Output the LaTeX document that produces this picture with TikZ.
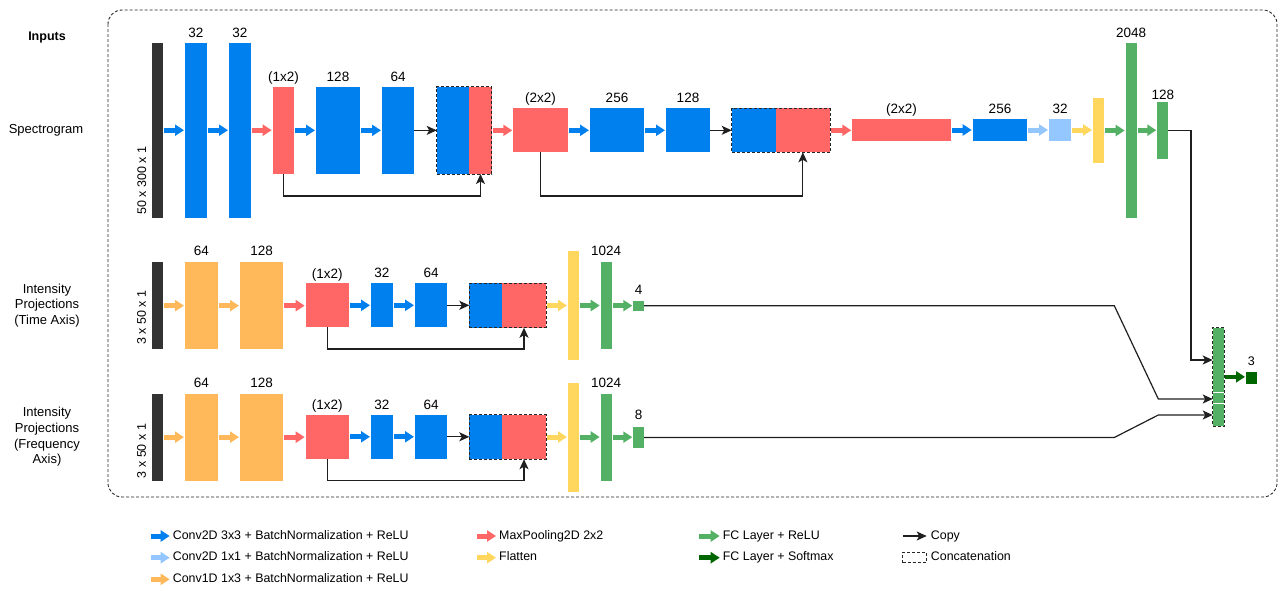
\documentclass[tikz,border=0pt]{standalone}
\usepackage{fontspec}
\setmainfont{Liberation Sans}
\usetikzlibrary{arrows.meta}
\definecolor{cblue}{RGB}{0,128,238}
\definecolor{cred}{RGB}{255,102,102}
\definecolor{clblue}{RGB}{148,198,255}
\definecolor{corange}{RGB}{255,185,90}
\definecolor{cyellow}{RGB}{255,214,94}
\definecolor{cgreen}{RGB}{84,176,100}
\definecolor{cdgreen}{RGB}{0,102,0}
\definecolor{cdark}{RGB}{51,51,51}
\newcommand{\bx}[6][]{\node[bar,#1,minimum width={((#5)-(#3))*1pt},minimum height={((#6)-(#4))*1pt}] (#2) at (#3,#4) {};}
\newcommand{\lb}[4][10.5]{\node[lbl] (#2) at ([yshift=#1pt]#3.north) {#4};}
\newcommand{\ar}[3]{\draw[#1] (#2.east) -- (#2.east -| #3.west);}
\tikzset{
  bar/.style={draw=none,inner sep=0pt,outer sep=0pt,anchor=north west},
  concat/.style={bar,draw=black!85,line width=0.9pt,dash pattern=on 3pt off 2pt},
  fat/.style={line width=5pt,-{Triangle[length=9pt,width=11pt]},shorten <=1pt,shorten >=1pt},
  ab/.style={fat,draw=cblue,color=cblue},
  alb/.style={fat,draw=clblue,color=clblue},
  ar/.style={fat,draw=cred,color=cred},
  ao/.style={fat,draw=corange,color=corange},
  ay/.style={fat,draw=cyellow,color=cyellow},
  ag/.style={fat,draw=cgreen,color=cgreen},
  adg/.style={fat,draw=cdgreen,color=cdgreen},
  copy/.style={draw=black!88,line width=1.2pt,-{Stealth[length=10pt,width=9pt,inset=2.5pt]},color=black!88},
  lbl/.style={font=\fontsize{13.5}{15}\selectfont,inner sep=0pt,text height=9.6pt,text depth=0pt,anchor=center},
  side/.style={font=\fontsize{13}{15.6}\selectfont,inner sep=0pt,align=center},
  rot/.style={font=\fontsize{12.5}{14}\selectfont,inner sep=0pt,rotate=90,anchor=west},
  leg/.style={font=\fontsize{12.4}{14}\selectfont,inner sep=0pt,anchor=west,text height=9pt,text depth=2.5pt},
  legfat/.style={shorten >=3pt,shorten <=0pt},
}
\begin{document}
\begin{tikzpicture}[x=1pt,y=-1pt]
\useasboundingbox (0,0) rectangle (1280,590);
% frame
\draw[draw=black!85,line width=0.9pt,dash pattern=on 3pt off 2pt,rounded corners=14pt] (108,10) rectangle (1277,497);
% side labels
\node[side,font=\bfseries\fontsize{12.5}{15}\selectfont] (tin) at (47,37) {Inputs};
\node[side] (tsp) at (46,130) {Spectrogram};
\node[side] (tti) at (47,305.5) {Intensity\\Projections\\(Time Axis)};
\node[side] (tfr) at (47,437) {Intensity\\Projections\\(Frequency\\Axis)};
% ---------- row 1 ----------
\bx[fill=cdark]{in1}{152.3}{42.7}{163.3}{217.7}
\bx[fill=cblue]{s1}{185}{42.7}{206.7}{217.7}
\bx[fill=cblue]{s2}{229}{42.7}{250.7}{217.7}
\bx[fill=cred]{p1}{272.7}{86.7}{294.3}{174}
\bx[fill=cblue]{s3}{316}{86.7}{360}{174}
\bx[fill=cblue]{s4}{382}{86.7}{414.3}{174}
\bx[fill=cblue]{c1b}{436.7}{86.7}{469.3}{174}
\bx[fill=cred]{c1r}{469.3}{86.7}{491.7}{174}
\bx[concat]{c1}{436.7}{86.7}{491.7}{174}
\bx[fill=cred]{p2}{513.3}{108.3}{567.7}{152.3}
\bx[fill=cblue]{s5}{590}{108.3}{644}{152.3}
\bx[fill=cblue]{s6}{666}{108.3}{710}{152.3}
\bx[fill=cblue]{c2b}{731.7}{108.3}{775.7}{152.3}
\bx[fill=cred]{c2r}{775.7}{108.3}{830}{152.3}
\bx[concat]{c2}{731.7}{108.3}{830}{152.3}
\bx[fill=cred]{p3}{852.3}{119}{950.7}{141}
\bx[fill=cblue]{s7}{972.7}{119}{1027.3}{141}
\bx[fill=clblue]{s8}{1049}{119}{1071}{141}
\bx[fill=cyellow]{f1}{1093}{97.7}{1104}{163.3}
\bx[fill=cgreen]{g1}{1125.7}{42.7}{1136.7}{217.7}
\bx[fill=cgreen]{g2}{1157.3}{101.7}{1168.3}{159.3}
\node[rot] (r1) at (141.7,215) {50 x 300 x 1};
\lb{l1}{s1}{32}\lb{l2}{s2}{32}\lb[9.7]{l3}{p1}{(1x2)}\lb{l4}{s3}{128}\lb{l5}{s4}{64}
\lb{l6}{p2}{(2x2)}\lb{l7}{s5}{256}\lb{l8}{s6}{128}
\lb{l9}{p3}{(2x2)}\lb{l10}{s7}{256}\lb{l11}{s8}{32}\lb{l12}{g1}{2048}\lb[7.5]{l13}{g2}{128}
\ar{ab}{in1}{s1}\ar{ab}{s1}{s2}\ar{ar}{s2}{p1}\ar{ab}{p1}{s3}\ar{ab}{s3}{s4}
\draw[copy] (s4.east) -- (s4.east -| c1.west);
\ar{ar}{c1}{p2}\ar{ab}{p2}{s5}\ar{ab}{s5}{s6}
\draw[copy] (s6.east) -- (s6.east -| c2.west);
\ar{ar}{c2}{p3}\ar{ab}{p3}{s7}\ar{alb}{s7}{s8}\ar{ay}{s8}{f1}\ar{ag}{f1}{g1}\ar{ag}{g1}{g2}
\coordinate (ya) at (0,196);
\draw[copy] (p1.south) -- (p1.south |- ya) -| (c1r.south);
\draw[copy] (p2.south) -- (p2.south |- ya) -| (c2r.south);
% ---------- row 2 ----------
\bx[fill=cdark]{in2}{152.3}{262.3}{163.3}{349}
\bx[fill=corange]{o21}{185}{262.3}{217.7}{349}
\bx[fill=corange]{o22}{240}{262.3}{283.3}{349}
\bx[fill=cred]{p21}{305.7}{283.3}{349}{327.3}
\bx[fill=cblue]{b21}{371}{283.3}{392.7}{327.3}
\bx[fill=cblue]{b22}{415}{283.3}{447.3}{327.3}
\bx[fill=cblue]{c3b}{469.3}{283.3}{502}{327.7}
\bx[fill=cred]{c3r}{502}{283.3}{546}{327.7}
\bx[concat]{c3}{469.3}{283.3}{546}{327.7}
\bx[fill=cyellow]{f2}{568}{251}{579}{360}
\bx[fill=cgreen]{g21}{600.7}{262.3}{611.7}{349}
\bx[fill=cgreen]{g22}{633.3}{300.7}{644}{310.7}
\node[rot] (r2) at (141.5,345) {3 x 50 x 1};
\lb[11.5]{m1}{o21}{64}\lb[11.5]{m2}{o22}{128}\lb[9.7]{m3}{p21}{(1x2)}\lb{m4}{b21}{32}\lb{m5}{b22}{64}
\lb[11.3]{m6}{g21}{1024}\lb[11.4]{m7}{g22}{4}
\ar{ao}{in2}{o21}\ar{ao}{o21}{o22}\ar{ar}{o22}{p21}\ar{ab}{p21}{b21}\ar{ab}{b21}{b22}
\draw[copy] (b22.east) -- (b22.east -| c3.west);
\ar{ay}{c3}{f2}\ar{ag}{f2}{g21}\ar{ag}{g21}{g22}
\coordinate (yb) at (0,349);
\draw[copy] (p21.south) -- (p21.south |- yb) -| (c3r.south);
% ---------- row 3 ----------
\bx[fill=cdark]{in3}{152.3}{393.8}{163.3}{480.5}
\bx[fill=corange]{o31}{185}{393.8}{217.7}{480.5}
\bx[fill=corange]{o32}{240}{393.8}{283.3}{480.5}
\bx[fill=cred]{p31}{305.7}{414.8}{349}{458.8}
\bx[fill=cblue]{b31}{371}{414.8}{392.7}{458.8}
\bx[fill=cblue]{b32}{415}{414.8}{447.3}{458.8}
\bx[fill=cblue]{c4b}{469.3}{414.8}{502}{459.2}
\bx[fill=cred]{c4r}{502}{414.8}{546}{459.2}
\bx[concat]{c4}{469.3}{414.8}{546}{459.2}
\bx[fill=cyellow]{f3}{568}{382.5}{579}{491.5}
\bx[fill=cgreen]{g31}{600.7}{393.8}{611.7}{480.5}
\bx[fill=cgreen]{g32}{633.3}{426.7}{644}{448.3}
\node[rot] (r3) at (141.5,478.3) {3 x 50 x 1};
\lb[11.5]{n1}{o31}{64}\lb[11.5]{n2}{o32}{128}\lb[9.7]{n3}{p31}{(1x2)}\lb{n4}{b31}{32}\lb{n5}{b32}{64}
\lb[11.3]{n6}{g31}{1024}\lb[11.7]{n7}{g32}{8}
\ar{ao}{in3}{o31}\ar{ao}{o31}{o32}\ar{ar}{o32}{p31}\ar{ab}{p31}{b31}\ar{ab}{b31}{b32}
\draw[copy] (b32.east) -- (b32.east -| c4.west);
\ar{ay}{c4}{f3}\ar{ag}{f3}{g31}\ar{ag}{g31}{g32}
\coordinate (yc) at (0,480.5);
\draw[copy] (p31.south) -- (p31.south |- yc) -| (c4r.south);
% ---------- final ----------
\bx[fill=cgreen]{fc}{1212.7}{327.7}{1224.3}{426}
\coordinate (w1) at (0,392);
\coordinate (w2) at (0,403.5);
\draw[white,line width=0.7pt] (fc.west |- w1) -- (fc.east |- w1);
\draw[white,line width=0.7pt] (fc.west |- w2) -- (fc.east |- w2);
\bx[concat]{fcf}{1212.7}{327.7}{1224.3}{426}
\bx[fill=cdgreen]{out}{1246}{371.7}{1256.7}{384}
\node[lbl,font=\fontsize{12.5}{14}\selectfont] (o3) at ([yshift=11pt]out.north) {3};
\draw[adg,line width=4.5pt] (fc.east) -- (fc.east -| out.west);
\coordinate (t1) at (1191,360);
\draw[copy] (g2.east) -| (t1) -- (t1 -| fc.west);
\coordinate (k1) at (1114.3,305.7);
\coordinate (k2) at (1158.3,399);
\draw[copy] (g22.east) -- (k1) -- (k2) -- (k2 -| fc.west);
\coordinate (k3) at (1114.3,437.5);
\coordinate (k4) at (1158.3,415);
\draw[copy] (g32.east) -- (k3) -- (k4) -- (k4 -| fc.west);
% ---------- legend ----------
\node[leg] (e1) at (172.7,536) {Conv2D 3x3 + BatchNormalization + ReLU};
\node[leg] (e2) at (172.7,557.7) {Conv2D 1x1 + BatchNormalization + ReLU};
\node[leg] (e3) at (172.7,579.3) {Conv1D 1x3 + BatchNormalization + ReLU};
\node[leg] (e4) at (499,536) {MaxPooling2D 2x2};
\node[leg] (e5) at (499,557.7) {Flatten};
\node[leg] (e6) at (722.7,536) {FC Layer + ReLU};
\node[leg] (e7) at (722.7,557.7) {FC Layer + Softmax};
\node[leg] (e8) at (930.7,536) {Copy};
\node[leg] (e9) at (930.7,557.7) {Concatenation};
\coordinate (a1) at (150.7,536);
\coordinate (a2) at (150.7,557.7);
\coordinate (a3) at (150.7,579.3);
\coordinate (a4) at (477.3,536);
\coordinate (a5) at (477.3,557.7);
\coordinate (a6) at (699.3,536);
\coordinate (a7) at (699.3,557.7);
\coordinate (a8) at (903.3,536);
\draw[ab,legfat] (a1) -- (e1.west);
\draw[alb,legfat] (a2) -- (e2.west);
\draw[ao,legfat] (a3) -- (e3.west);
\draw[ar,legfat] (a4) -- (e4.west);
\draw[ay,legfat] (a5) -- (e5.west);
\draw[ag,legfat] (a6) -- (e6.west);
\draw[adg,legfat] (a7) -- (e7.west);
\draw[copy,shorten >=4pt] (a8) -- (e8.west);
\bx[concat]{e10}{902.7}{552.3}{926}{562.7}
\end{tikzpicture}
\end{document}
